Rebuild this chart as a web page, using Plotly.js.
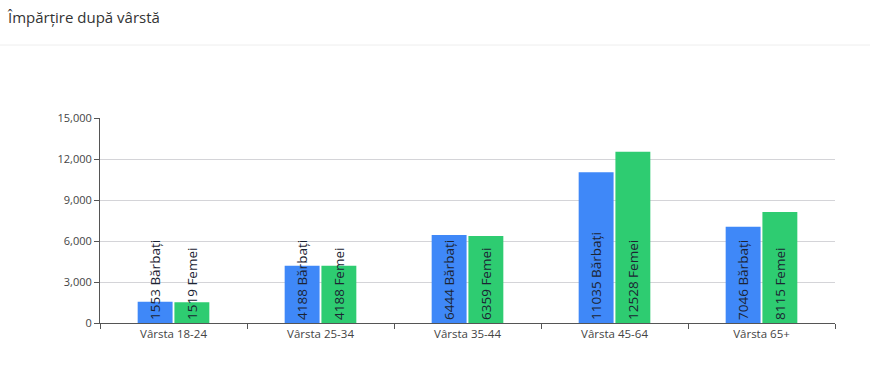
<!DOCTYPE html>
<html>
<head>
<meta charset="utf-8">
<script src="https://cdn.plot.ly/plotly-3.0.1.min.js"></script>
<style>html,body{margin:0;padding:0;background:#fff;}#chart{width:870px;height:388px;}</style>
</head>
<body>
<div id="chart"></div>
<script>
const categories = ['Vârsta 18-24', 'Vârsta 25-34', 'Vârsta 35-44', 'Vârsta 45-64', 'Vârsta 65+'];
const barbati = [1553, 4188, 6444, 11035, 7046];
const femei = [1519, 4188, 6359, 12528, 8115];
const labelBarbati = 'Bărbați';
const labelFemei = 'Femei';
const yTicks = [0, 3000, 6000, 9000, 12000, 15000];

const textFont = {family: 'Open Sans, Noto Sans, sans-serif', size: 13.5, color: '#1c2433'};

const traces = [
  {
    type: 'bar', x: categories, y: barbati, name: labelBarbati,
    marker: {color: '#3f88f8'},
    text: barbati.map(v => v + ' ' + labelBarbati),
    textposition: 'inside', insidetextanchor: 'start', textangle: -90,
    constraintext: 'none', insidetextfont: textFont, cliponaxis: false,
    hoverinfo: 'none'
  },
  {
    type: 'bar', x: categories, y: femei, name: labelFemei,
    marker: {color: '#2ecc71'},
    text: femei.map(v => v + ' ' + labelFemei),
    textposition: 'inside', insidetextanchor: 'start', textangle: -90,
    constraintext: 'none', insidetextfont: textFont, cliponaxis: false,
    hoverinfo: 'none'
  }
];

const layout = {
  width: 870, height: 388,
  margin: {l: 100, r: 35, t: 118, b: 65, pad: 0},
  paper_bgcolor: '#ffffff', plot_bgcolor: '#ffffff',
  showlegend: false,
  barmode: 'group', bargap: 0.5, bargroupgap: 0.05,
  font: {family: 'Open Sans, Noto Sans, sans-serif', color: '#444'},
  title: {text: 'Împărțire după vârstă', x: 8/870, xanchor: 'left', xref: 'container', y: 1 - 18/388, yanchor: 'middle', yref: 'container',
          font: {size: 15, color: '#333', family: 'Open Sans, Noto Sans, sans-serif'}},
  xaxis: {
    type: 'category', showline: true, linecolor: '#555', linewidth: 1,
    ticks: 'outside', ticklen: 5, tickcolor: '#555', tickson: 'boundaries',
    showgrid: false, tickfont: {size: 11.5, color: '#444'}, fixedrange: true
  },
  yaxis: {
    range: [0, 15000], tickvals: yTicks, tickformat: ',d',
    showline: true, linecolor: '#555', linewidth: 1,
    ticks: 'outside', ticklen: 5, tickcolor: '#555',
    gridcolor: '#d4d4d8', gridwidth: 1, zeroline: false,
    tickfont: {size: 11, color: '#444'}, fixedrange: true
  },
  shapes: [
    {type: 'line', xref: 'paper', yref: 'paper', x0: -100/735, x1: 770/735, y0: (323-45)/205, y1: (323-45)/205,
     line: {color: '#eeeeee', width: 1}}
  ]
};

Plotly.newPlot('chart', traces, layout, {displayModeBar: false, staticPlot: true});
</script>
</body>
</html>
